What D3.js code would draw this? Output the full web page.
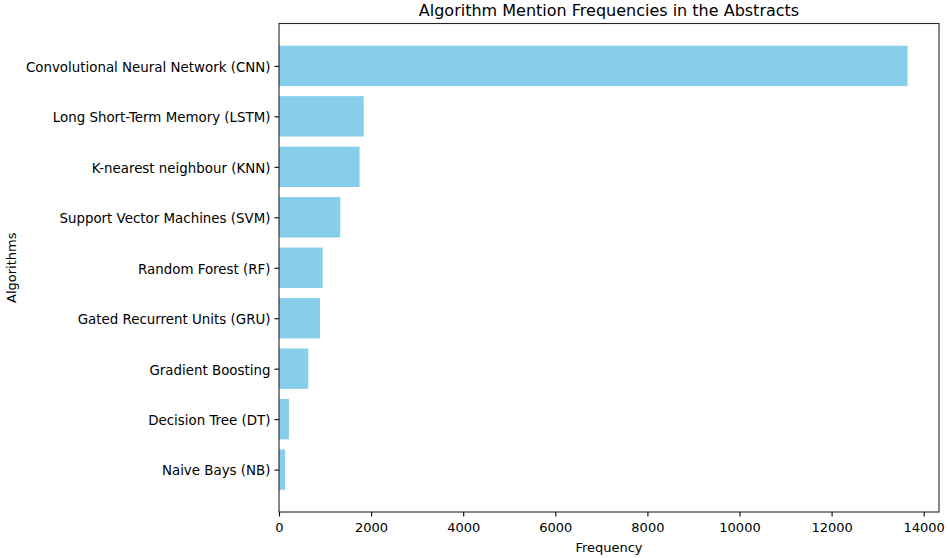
<!DOCTYPE html>
<html>
<head>
<meta charset="utf-8">
<script src="https://cdn.jsdelivr.net/npm/d3@7"></script>
<style>
  body { margin: 0; background: #fff; }
  text { font-family: "DejaVu Sans", sans-serif; fill: #000; }
</style>
</head>
<body>
<div id="chart"></div>
<script>
var width = 948;
var height = 558;
var bar_color = "#87CEEB";

// data
var algorithms = [
  "Convolutional Neural Network (CNN)",
  "Long Short-Term Memory (LSTM)",
  "K-nearest neighbour (KNN)",
  "Support Vector Machines (SVM)",
  "Random Forest (RF)",
  "Gated Recurrent Units (GRU)",
  "Gradient Boosting",
  "Decision Tree (DT)",
  "Naive Bays (NB)"
];
var frequencies = [13650, 1840, 1750, 1330, 950, 890, 635, 215, 130];
var x_ticks = [0, 2000, 4000, 6000, 8000, 10000, 12000, 14000];

var margin = {left: 279, right: 9, top: 23.5, bottom: 46};
var w = width - margin.left - margin.right;
var h = height - margin.top - margin.bottom;

var svg = d3.select("#chart").append("svg")
  .attr("width", width)
  .attr("height", height);

var g = svg.append("g")
  .attr("transform", "translate(" + margin.left + "," + margin.top + ")");

// matplotlib style: 5% margin on x, bars 0.8 tall with 5% margin on y
var xmax = d3.max(frequencies) * 1.05;
var x = d3.scaleLinear().domain([0, xmax]).range([0, w]);

var n = algorithms.length;
var span = (n - 1) + 0.8;
var y = d3.scaleLinear()
  .domain([-0.4 - 0.05 * span, n - 1 + 0.4 + 0.05 * span])
  .range([0, h]);

// bars
g.append("g").attr("id", "bars")
  .selectAll("rect")
  .data(frequencies)
  .enter().append("rect")
  .attr("x", x(0))
  .attr("y", function(d, i) { return y(i - 0.4); })
  .attr("width", function(d) { return x(d) - x(0); })
  .attr("height", y(0.4) - y(-0.4))
  .style("fill", bar_color);

// x axis
var x_axis = d3.axisBottom(x)
  .tickValues(x_ticks)
  .tickFormat(d3.format("d"))
  .tickSize(4.5)
  .tickPadding(4);

var gx = g.append("g")
  .attr("transform", "translate(0," + h + ")")
  .call(x_axis);
gx.select(".domain").remove();
gx.selectAll("text").style("font-size", "13px").attr("dy", "0.85em");
gx.selectAll("line").style("stroke-width", 1.1);

// y axis
var y_axis = d3.axisLeft(y)
  .tickValues(d3.range(n))
  .tickFormat(function(i) { return algorithms[i]; })
  .tickSize(4.5)
  .tickPadding(4);

var gy = g.append("g").call(y_axis);
gy.select(".domain").remove();
gy.selectAll("text").style("font-size", "13.4px").attr("dy", "0.4em");
gy.selectAll("line").style("stroke-width", 1.1);

// frame
g.append("rect")
  .attr("x", 0).attr("y", 0)
  .attr("width", w).attr("height", h)
  .style("fill", "none")
  .style("stroke", "#222")
  .style("stroke-width", 1.1);

// title & labels
svg.append("text")
  .attr("x", 609)
  .attr("y", 16)
  .attr("text-anchor", "middle")
  .style("font-size", "16px")
  .text("Algorithm Mention Frequencies in the Abstracts");

svg.append("text")
  .attr("x", margin.left + w / 2)
  .attr("y", 552)
  .attr("text-anchor", "middle")
  .style("font-size", "13px")
  .text("Frequency");

svg.append("text")
  .attr("transform", "translate(16," + (margin.top + h / 2) + ") rotate(-90)")
  .attr("text-anchor", "middle")
  .style("font-size", "13px")
  .text("Algorithms");
</script>
</body>
</html>
